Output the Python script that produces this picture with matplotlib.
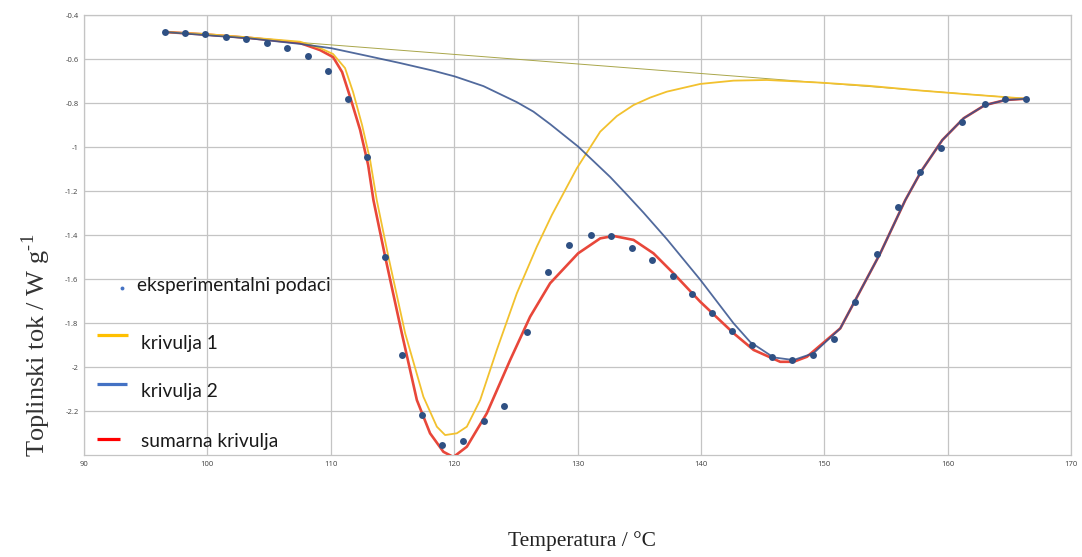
import matplotlib
matplotlib.use("Agg")
import matplotlib.pyplot as plt
from matplotlib.lines import Line2D

plt.rcParams["axes.unicode_minus"] = False
plt.rcParams["mathtext.fontset"] = "custom"
plt.rcParams["mathtext.rm"] = "Liberation Serif"

# experimental points
temp_exp = [96.57, 98.19, 99.81, 101.51, 103.14, 104.84, 106.46, 108.16, 109.78,
            111.41, 112.95, 114.41, 115.78, 117.41, 119.03, 120.73, 122.43, 124.05,
            125.92, 127.62, 129.32, 131.11, 132.73, 134.43, 136.05, 137.76, 139.30,
            140.92, 142.54, 144.16, 145.78, 147.40, 149.11, 150.81, 152.51, 154.30,
            156.00, 157.78, 159.49, 161.19, 163.05, 164.67, 166.38]
flow_exp = [-0.476, -0.480, -0.485, -0.499, -0.508, -0.524, -0.549, -0.587, -0.655,
            -0.782, -1.045, -1.499, -1.944, -2.217, -2.351, -2.333, -2.244, -2.178,
            -1.840, -1.567, -1.444, -1.399, -1.404, -1.458, -1.512, -1.585, -1.667,
            -1.753, -1.835, -1.899, -1.953, -1.965, -1.945, -1.873, -1.703, -1.485,
            -1.271, -1.111, -1.002, -0.886, -0.802, -0.782, -0.780]

# straight baseline
temp_base = [96.57, 166.38]
flow_base = [-0.476, -0.779]

# krivulja 1
temp_c1 = [96.57, 99.81, 103.46, 107.51, 109.13, 110.19, 111.16, 111.81, 112.54,
           113.19, 113.73, 114.67, 116.03, 117.51, 118.60, 119.27, 120.22, 121.03,
           122.11, 123.46, 125.08, 126.70, 127.92, 129.95, 131.84, 133.19, 134.54,
           135.89, 137.25, 139.95, 142.65, 145.35, 149.68, 153.73, 157.78, 161.84,
           166.38]
flow_c1 = [-0.476, -0.485, -0.501, -0.520, -0.549, -0.576, -0.640, -0.749, -0.899,
           -1.058, -1.240, -1.497, -1.845, -2.134, -2.270, -2.308, -2.300, -2.270,
           -2.149, -1.921, -1.664, -1.452, -1.308, -1.095, -0.929, -0.858, -0.808,
           -0.774, -0.747, -0.712, -0.697, -0.694, -0.706, -0.721, -0.742, -0.760,
           -0.779]

# krivulja 2
temp_c2 = [96.57, 99.81, 103.46, 107.51, 110.08, 112.92, 115.62, 118.32, 120.06,
           122.38, 125.09, 126.43, 127.79, 130.06, 132.65, 134.00, 135.35, 137.25,
           139.95, 142.65, 144.00, 145.89, 147.51, 149.13, 151.30, 154.54, 156.57,
           157.89, 159.57, 161.30, 163.03, 164.70, 166.38]
flow_c2 = [-0.476, -0.490, -0.505, -0.530, -0.550, -0.584, -0.617, -0.652, -0.678,
           -0.722, -0.795, -0.838, -0.895, -0.997, -1.135, -1.215, -1.297, -1.418,
           -1.602, -1.800, -1.885, -1.955, -1.967, -1.936, -1.823, -1.482, -1.240,
           -1.106, -0.967, -0.868, -0.808, -0.785, -0.779]

# sumarna krivulja
temp_sum = [96.57, 99.81, 103.46, 107.51, 109.13, 110.19, 110.92, 111.57, 112.38,
            113.03, 113.46, 114.41, 115.76, 116.98, 118.05, 119.13, 119.94, 121.03,
            122.65, 124.54, 126.16, 127.78, 130.05, 131.84, 132.92, 134.54, 136.16,
            137.78, 139.95, 142.65, 144.27, 146.43, 147.51, 148.60, 151.30, 154.54,
            156.57, 157.89, 159.57, 161.30, 163.03, 164.70, 166.38]
flow_sum = [-0.476, -0.487, -0.503, -0.526, -0.558, -0.590, -0.658, -0.771, -0.921,
            -1.080, -1.240, -1.497, -1.845, -2.149, -2.300, -2.384, -2.408, -2.361,
            -2.209, -1.967, -1.770, -1.618, -1.482, -1.414, -1.403, -1.421, -1.482,
            -1.573, -1.702, -1.845, -1.921, -1.975, -1.975, -1.952, -1.823, -1.482,
            -1.240, -1.106, -0.967, -0.868, -0.808, -0.785, -0.779]

x_ticks = [90, 100, 110, 120, 130, 140, 150, 160, 170]
y_ticks = [-0.4, -0.6, -0.8, -1.0, -1.2, -1.4, -1.6, -1.8, -2.0, -2.2]
y_tick_labels = ["-0.4", "-0.6", "-0.8", "-1", "-1.2", "-1.4", "-1.6", "-1.8", "-2", "-2.2"]

legend_labels = ["eksperimentalni podaci", "krivulja 1", "krivulja 2", "sumarna krivulja"]

W, H = 1082, 557


def fx(px):
    return px / W


def fy(py):
    return 1 - py / H


fig = plt.figure(figsize=(W / 100, H / 100), dpi=100)
ax = fig.add_axes([fx(84), fy(455.3), fx(1071) - fx(84), fy(15.3) - fy(455.3)])

ax.plot(temp_base, flow_base, color="#a9a64a", lw=0.7, zorder=3)
ax.plot(temp_sum, flow_sum, color="#e8473a", lw=1.9, zorder=4)
ax.plot(temp_c1, flow_c1, color="#f2c12e", lw=1.3, zorder=5)
ax.plot(temp_c2, flow_c2, color="#33508c", lw=1.3, alpha=0.85, zorder=6)
ax.plot(temp_exp, flow_exp, "o", color="#2f5083", ms=5, mec="none", zorder=7)

ax.set_xlim(90, 170)
ax.set_ylim(-2.4, -0.4)
ax.set_xticks(x_ticks)
ax.set_xticklabels([str(t) for t in x_ticks], fontfamily="Open Sans", fontsize=5.5)
ax.set_yticks(y_ticks)
ax.set_yticklabels(y_tick_labels, fontfamily="Open Sans", fontsize=5.5)
ax.tick_params(length=0, pad=4, colors="#404040")
ax.grid(True, color="#c4c4c4", lw=0.9)
ax.set_axisbelow(True)
for side in ax.spines:
    ax.spines[side].set_color("#c4c4c4")
    ax.spines[side].set_linewidth(0.9)

# hand made legend
fig.add_artist(Line2D([fx(122)], [fy(288)], marker="o", ms=2.8, color="#4472c4", mec="none"))
legend_lines = [(97, 128, 334.5, "#ffc000"), (97, 127, 384, "#4472c4"), (97, 120, 439, "#ff0000")]
for x0, x1, y0, col in legend_lines:
    fig.add_artist(Line2D([fx(x0), fx(x1)], [fy(y0), fy(y0)], color=col, lw=2.3,
                          solid_capstyle="butt"))
legend_text_pos = [(137, 286), (141, 343), (141, 392), (141, 442)]
for (tx, ty), lab in zip(legend_text_pos, legend_labels):
    fig.text(fx(tx), fy(ty), lab, fontfamily="Lato", fontsize=13.8, color="#1a1a1a",
             ha="left", va="center")

fig.text(fx(36), fy(345), r"Toplinski tok / W g$^{\mathrm{\text{-}1}}$", rotation=90,
         ha="center", va="center", fontfamily="Liberation Serif", fontsize=19, color="#333333")
fig.text(fx(582), fy(541), "Temperatura / °C", ha="center", va="center",
         fontfamily="Liberation Serif", fontsize=15.5, color="#222222")

fig.savefig("out.png", dpi=100)
